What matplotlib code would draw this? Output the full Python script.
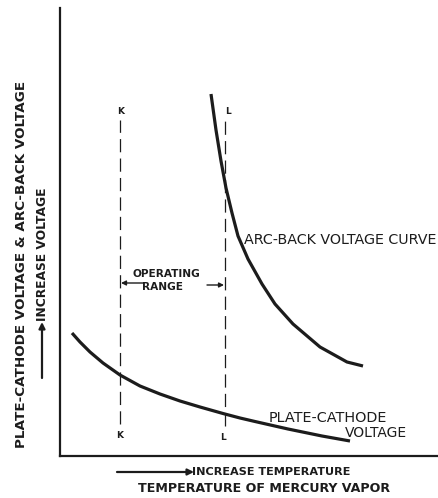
import matplotlib
matplotlib.use("Agg")
import matplotlib.pyplot as plt

plt.rcParams['font.family'] = ['DejaVu Sans']
plt.rcParams['lines.scale_dashes'] = False

# Curve values (temperature units, voltage units)
arc_temp = [151, 156, 161, 166, 172, 178, 188, 202, 215, 233, 260, 287, 303]
arc_volt = [362, 326, 295, 268, 243, 220, 197, 172, 152, 132, 109, 94, 90]

plate_temp = [12, 20, 30, 43, 60, 80, 100, 120, 140, 163, 180, 195, 228, 262, 290]
plate_volt = [123, 114, 104, 93, 81, 70, 62, 55, 49, 42.5, 38, 34.5, 27, 20, 15]

# Operating range bounds
k_temp = 60
l_temp = 165
range_labels = ["K", "L"]

W, H = 439, 498
fig = plt.figure(figsize=(W / 100, H / 100), dpi=100)
ax = fig.add_axes([60 / W, 42 / H, 379 / W, 448 / H])
ax.set_xlim(0, 379)
ax.set_ylim(0, 448)
ink = "#1c1c1c"

for s in ["top", "right"]:
    ax.spines[s].set_visible(False)
for s in ["left", "bottom"]:
    ax.spines[s].set_linewidth(1.6)
    ax.spines[s].set_color(ink)
ax.set_xticks([])
ax.set_yticks([])

ax.plot(arc_temp, arc_volt, color=ink, lw=2.3, solid_capstyle="butt", solid_joinstyle="round")
ax.plot(plate_temp, plate_volt, color=ink, lw=2.3, solid_capstyle="butt", solid_joinstyle="round")

dash = (0, (9.5, 4.5))
ax.plot([k_temp, k_temp], [32, 336], color=ink, lw=0.9, linestyle=dash)
ax.plot([l_temp, l_temp], [30, 341], color=ink, lw=0.9, linestyle=dash)

lab_kw = dict(fontsize=6.5, fontweight="bold", color=ink, ha="center", va="center")
ax.text(k_temp + 1, 345, range_labels[0], **lab_kw)
ax.text(l_temp + 3, 345, range_labels[1], **lab_kw)
ax.text(k_temp, 21, range_labels[0], **lab_kw)
ax.text(l_temp - 2, 19, range_labels[1], **lab_kw)

txt_kw = dict(color=ink, va="center", ha="left")
ax.text(184, 216, "ARC-BACK VOLTAGE CURVE", fontsize=10.3, **txt_kw)
ax.text(209, 38, "PLATE-CATHODE", fontsize=10.4, **txt_kw)
ax.text(285, 23, "VOLTAGE", fontsize=10.0, **txt_kw)

op_kw = dict(fontsize=7.6, fontweight="bold", color=ink, va="center", ha="center")
ax.text(106, 182, "OPERATING", **op_kw)
ax.text(103, 169, "RANGE", **op_kw)
ax.annotate("", xy=(k_temp + 1, 173), xytext=(83, 173),
            arrowprops=dict(arrowstyle="-|>", color=ink, lw=1.0, mutation_scale=7, shrinkA=0, shrinkB=0))
ax.annotate("", xy=(l_temp - 1, 171), xytext=(147, 171),
            arrowprops=dict(arrowstyle="-|>", color=ink, lw=1.0, mutation_scale=7, shrinkA=0, shrinkB=0))


def fx(px):
    return px / W


def fy(py):
    return 1 - py / H


# x-axis labels
fig.text(fx(192), fy(472), "INCREASE TEMPERATURE", fontsize=8.1, fontweight="bold",
         color=ink, ha="left", va="center")
ax.annotate("", xy=(fx(194), fy(472)), xytext=(fx(117), fy(472)), xycoords="figure fraction",
            textcoords="figure fraction",
            arrowprops=dict(arrowstyle="-|>", color=ink, lw=1.6, mutation_scale=9, shrinkA=0, shrinkB=0))
fig.text(fx(264), fy(488), "TEMPERATURE OF MERCURY VAPOR", fontsize=9.1, fontweight="bold",
         color=ink, ha="center", va="center")

# y-axis labels
fig.text(fx(22), fy(264), "PLATE-CATHODE VOLTAGE & ARC-BACK VOLTAGE", fontsize=9.7,
         fontweight="bold", color=ink, ha="center", va="center", rotation=90)
fig.text(fx(43), fy(321), "INCREASE VOLTAGE", fontsize=8.8, fontweight="bold",
         color=ink, ha="center", va="bottom", rotation=90)
ax.annotate("", xy=(fx(42), fy(322)), xytext=(fx(42), fy(378)), xycoords="figure fraction",
            textcoords="figure fraction",
            arrowprops=dict(arrowstyle="-|>", color=ink, lw=1.6, mutation_scale=9, shrinkA=0, shrinkB=0))

fig.savefig("out.png", dpi=100, facecolor="white")
